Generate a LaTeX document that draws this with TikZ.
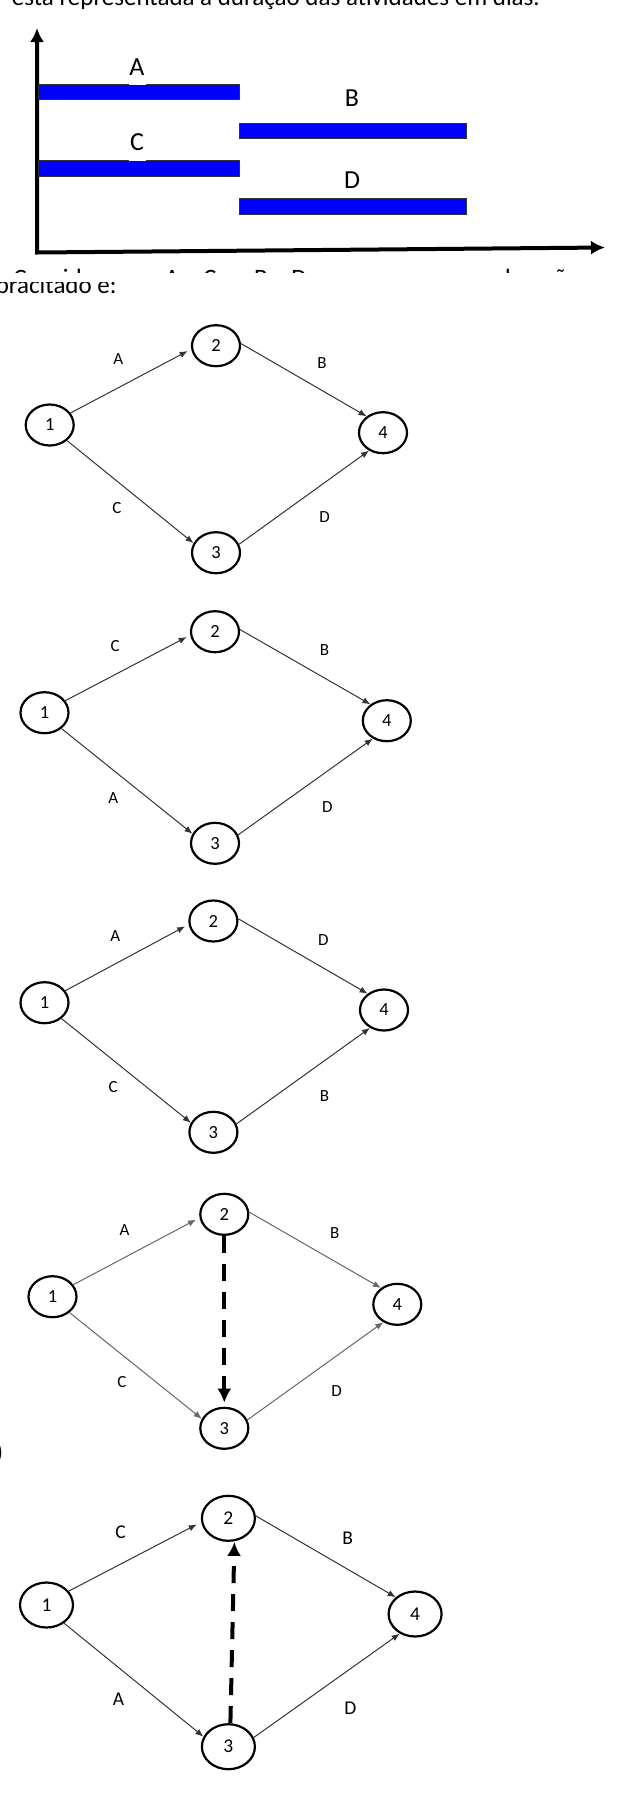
\documentclass[tikz,border=0pt]{standalone}
\usepackage{fontspec}
\setmainfont{Carlito}
\usepackage{xcolor}
\usepackage{tikz}
\usetikzlibrary{shapes.geometric,arrows.meta,positioning}

\tikzset{
  evento/.style={draw,ellipse,line width=1.1pt,minimum width=24pt,minimum height=20.5pt,inner sep=0pt,font=\fontsize{9.25}{10}\selectfont},
  eventog/.style={evento,minimum width=26.5pt,minimum height=22.5pt,font=\fontsize{9.75}{11}\selectfont},
  ativ/.style={-{Latex[length=4pt,width=3.2pt]},line width=0.5pt,black!80},
  fantasma/.style={-{Latex[length=7pt,width=7pt]},line width=2pt,dash pattern=on 8.5pt off 5.5pt},
  rotulo/.style={inner sep=0pt,font=\fontsize{8.5}{10}\selectfont},
  rotulog/.style={inner sep=0pt,font=\fontsize{9.75}{11}\selectfont},
  barra/.style={fill=blue,draw=black!80,line width=0.4pt},
  texto/.style={inner sep=0pt,font=\fontsize{12.5}{15}\selectfont},
  letra/.style={inner sep=0pt,font=\fontsize{13}{15}\selectfont},
}

\begin{document}
\begin{tikzpicture}[x=0.5pt,y=-0.5pt]
		\useasboundingbox (0,0) rectangle (634,1795);
		\node[texto,anchor=base west] (topo) at (11.5,5) {está representada a duração das atividades em dias.};
		% grafico de barras
		\draw [{Latex[length=7pt,width=7pt]}-{Latex[length=7pt,width=7pt]},line width=2pt](37,28) -- (37,252.5) -- (605,247.5);
		\filldraw[barra] (38,84) rectangle (239,99);
		\filldraw[barra] (239,123) rectangle (466,138);
		\filldraw[barra] (38,160) rectangle (239,176);
		\filldraw[barra] (239,198) rectangle (466,214);
		\fill[white] (129,83) rectangle (146,85.3);
		\fill[white] (129,159) rectangle (146,161.3);
		\node[letra] (barA) at (137,67) {A};
		\node[letra] (barB) at (352,98) {B};
		\node[letra] (barC) at (137,142) {C};
		\node[letra] (barD) at (352,180) {D};
		\begin{scope}
			\clip (0,0) rectangle (634,272.5);
			\node[texto,anchor=base west] (meio) at (13,286) {Considere que A e C ou B e D, com uma mesma duração};
		\end{scope}
		\begin{scope}
			\clip (0,282) rectangle (634,294);
			\node[texto,anchor=base east] (baixo) at (117,293) {supracitado é:};
		\end{scope}
		% rede a
		\node[evento] (a1) at (49.7,425) {1};
		\node[evento] (a2) at (216,345.7) {2};
		\node[evento] (a3) at (216,552.7) {3};
		\node[evento] (a4) at (383,432.7) {4};
		\draw[ativ,shorten >=2pt] (a1.30) -- (a2.188);
		\draw[ativ] (a2.5) -- (a4.135);
		\draw[ativ] (a1.-42) -- (a3.157);
		\draw[ativ] (a3.20) -- (a4.-128);
		\node[rotulo] (a12) at (118.4,359.3) {A};
		\node[rotulo] (a24) at (322,363.3) {B};
		\node[rotulo] (a13) at (117,507.7) {C};
		\node[rotulo] (a34) at (324.6,516.7) {D};
		% rede b
		\node[evento] (b1) at (44.5,712.7) {1};
		\node[evento] (b2) at (215,631.7) {2};
		\node[evento] (b3) at (215,843.3) {3};
		\node[evento] (b4) at (386.8,720.7) {4};
		\draw[ativ,shorten >=2pt] (b1.30) -- (b2.188);
		\draw[ativ] (b2.5) -- (b4.135);
		\draw[ativ] (b1.-43) -- (b3.157);
		\draw[ativ] (b3.20) -- (b4.-128);
		\node[rotulo] (b12) at (115.2,646) {C};
		\node[rotulo] (b24) at (324.6,650) {B};
		\node[rotulo] (b13) at (113.2,798.3) {A};
		\node[rotulo] (b34) at (327.4,806.7) {D};
		% rede c
		\node[evento] (c1) at (44.5,1002.7) {1};
		\node[evento] (c2) at (213.4,921) {2};
		\node[evento] (c3) at (213.4,1132.3) {3};
		\node[evento] (c4) at (384,1010) {4};
		\draw[ativ,shorten >=2pt] (c1.30) -- (c2.188);
		\draw[ativ] (c2.5) -- (c4.135);
		\draw[ativ] (c1.-43) -- (c3.157);
		\draw[ativ] (c3.20) -- (c4.-128);
		\node[rotulo] (c12) at (115.2,936) {A};
		\node[rotulo] (c24) at (323.4,940) {D};
		\node[rotulo] (c13) at (113.2,1086.7) {C};
		\node[rotulo] (c34) at (324.6,1096) {B};
		% rede d
		\node[texto,anchor=base east] (fecha) at (3.5,1460) {)};
		\node[evento] (d1) at (52.5,1296.7) {1};
		\node[evento] (d2) at (224.3,1214.3) {2};
		\node[evento] (d3) at (224.3,1428.3) {3};
		\node[evento] (d4) at (397.3,1304.3) {4};
		\draw[ativ,black!60,shorten >=2pt] (d1.30) -- (d2.188);
		\draw[ativ,black!60] (d2.5) -- (d4.135);
		\draw[ativ,black!60] (d1.-43) -- (d3.157);
		\draw[ativ,black!60] (d3.20) -- (d4.-128);
		\draw[fantasma,shorten >=2pt] (d2.south) -- (d3.north);
		\node[rotulo] (d12) at (124.5,1230) {A};
		\node[rotulo] (d24) at (334.7,1233.3) {B};
		\node[rotulo] (d13) at (122,1381.7) {C};
		\node[rotulo] (d34) at (336.7,1390.7) {D};
		% rede e
		\node[eventog] (e1) at (46.5,1605) {1};
		\node[eventog] (e2) at (228.4,1518.3) {2};
		\node[eventog] (e3) at (228.4,1746.7) {3};
		\node[eventog] (e4) at (415.1,1614) {4};
		\draw[ativ,shorten >=2.5pt] (e1.32) -- (e2.188);
		\draw[ativ] (e2.5) -- (e4.139);
		\draw[ativ] (e1.-46) -- (e3.158);
		\draw[ativ] (e3.20) -- (e4.-128);
		\draw[fantasma] ([xshift=1pt]e3.north) -- ([xshift=3pt]e2.south);
		\node[rotulog] (e12) at (120.5,1532.7) {C};
		\node[rotulog] (e24) at (347.6,1538.3) {B};
		\node[rotulog] (e13) at (118.4,1699.3) {A};
		\node[rotulog] (e34) at (350.4,1708.3) {D};
	\end{tikzpicture}
\end{document}
